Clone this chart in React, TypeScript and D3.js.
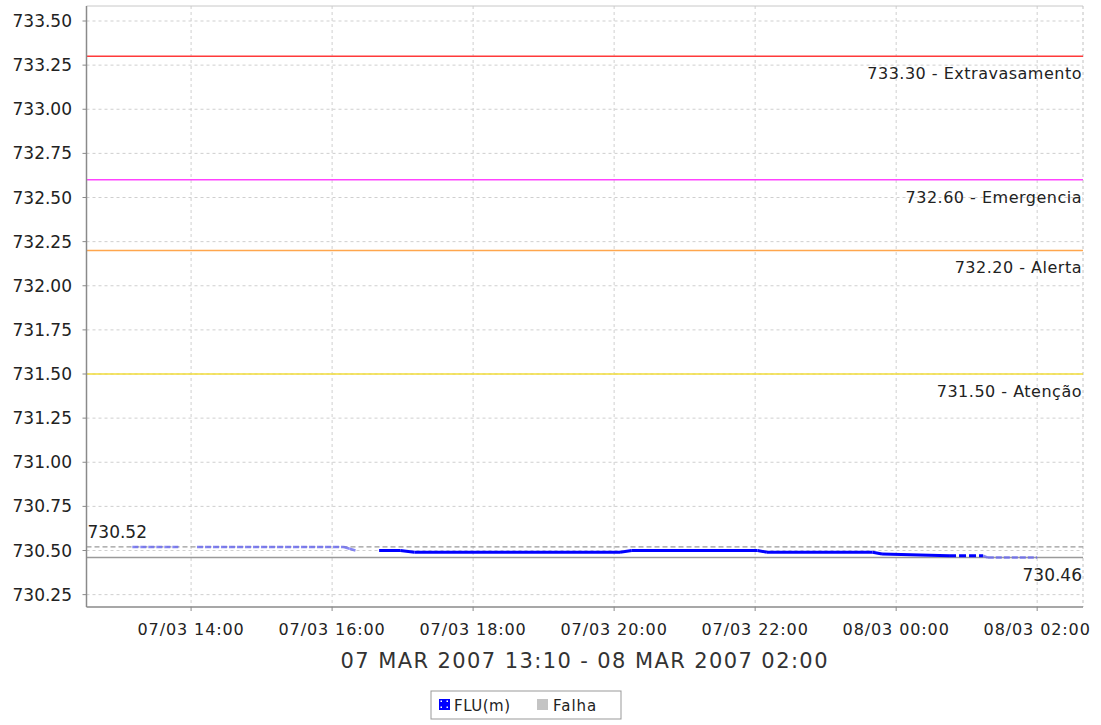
import React from "react";
import * as d3 from "d3";

// level readings (m) of the FLU station
const flowTimes = [
  "07/03/2007 13:10", "07/03/2007 13:50", "07/03/2007 14:05", "07/03/2007 16:10",
  "07/03/2007 16:15", "07/03/2007 16:20", "07/03/2007 16:40", "07/03/2007 16:58",
  "07/03/2007 17:10", "07/03/2007 20:05", "07/03/2007 20:15", "07/03/2007 22:02",
  "07/03/2007 22:10", "07/03/2007 23:40", "07/03/2007 23:48", "08/03/2007 00:45",
  "08/03/2007 01:14", "08/03/2007 01:18", "08/03/2007 02:00",
];
const flowValues: (number | null)[] = [
  730.52, 730.52, 730.52, 730.52,
  730.51, 730.5, 730.5, 730.5,
  730.49, 730.49, 730.5, 730.5,
  730.49, 730.49, 730.48, 730.47,
  730.47, 730.46, 730.46,
];
// gaps in the record (Falha): the line is broken after these times
const gapStarts = ["07/03/2007 13:50", "07/03/2007 16:20"];
// periods drawn with estimated (faded) readings
const fadedRanges = [
  ["07/03/2007 13:10", "07/03/2007 16:20"],
  ["08/03/2007 01:14", "08/03/2007 02:00"],
];
const dashedRanges = [["08/03/2007 00:45", "08/03/2007 01:14"]];

const levelValues = [733.3, 732.6, 732.2, 731.5];
const levelNames = ["Extravasamento", "Emergencia", "Alerta", "Atenção"];
const levelColors = ["#ff3a3a", "#ff44ff", "#ffa64d", "#f2dc3a"];

const maxValue = 730.52;
const minValue = 730.46;

const yTicks = d3.range(13, -1, -1).map((i) => 730.25 + i * 0.25);
const xTickTimes = [
  "07/03/2007 14:00", "07/03/2007 16:00", "07/03/2007 18:00", "07/03/2007 20:00",
  "07/03/2007 22:00", "08/03/2007 00:00", "08/03/2007 02:00",
];
const xTitle = "07 MAR 2007 13:10 - 08 MAR 2007 02:00";
const legendNames = ["FLU(m)", "Falha"];

const parse = d3.timeParse("%d/%m/%Y %H:%M");
const fmtTick = d3.timeFormat("%d/%m %H:%M");
const font = "'DejaVu Sans', sans-serif";

const W = 1101;
const H = 725;
const plot = { left: 86.5, right: 1083, top: 6, bottom: 607 };

export default function App() {
  const x = d3
    .scaleTime()
    .domain([parse("07/03/2007 12:31")!, parse("08/03/2007 02:39")!])
    .range([plot.left, plot.right]);
  const y = d3
    .scaleLinear()
    .domain([730.5, 733.5])
    .range([550.5, 21]);
  y.domain([y.invert(plot.bottom), y.invert(plot.top)]).range([plot.bottom, plot.top]);

  const pts = flowTimes.map((t, i) => ({ t: parse(t)!, v: flowValues[i] }));
  const gaps = gapStarts.map((t) => +parse(t)!);
  const inRange = (ranges: string[][], a: Date, b: Date) =>
    ranges.some((r) => +a >= +parse(r[0])! && +b <= +parse(r[1])!);

  const segs = [];
  for (let i = 0; i < pts.length - 1; i++) {
    const a = pts[i];
    const b = pts[i + 1];
    if (a.v == null || b.v == null || gaps.includes(+a.t)) continue;
    const faded = inRange(fadedRanges, a.t, b.t);
    const dashed = inRange(dashedRanges, a.t, b.t);
    segs.push(
      <line
        key={i}
        x1={x(a.t)}
        y1={y(a.v)}
        x2={x(b.t)}
        y2={y(b.v)}
        stroke={faded ? "#6a6af2" : "#0000ff"}
        strokeWidth={faded ? 2.5 : 3}
        strokeDasharray={faded ? "6 2" : dashed ? "7 3" : undefined}
        opacity={faded ? 0.8 : 1}
      />
    );
  }

  const grid = "#cfcfcf";
  const textColor = "#222";

  return (
    <div style={{ position: "absolute", left: 0, top: 0, background: "#fff" }}>
      <svg width={W} height={H} style={{ display: "block", fontFamily: font }}>
        <rect x={0} y={0} width={W} height={H} fill="#fff" />
        {/* grid */}
        {yTicks.map((t) => (
          <line key={"gy" + t} x1={plot.left} x2={plot.right} y1={y(t)} y2={y(t)}
            stroke={grid} strokeDasharray="3 3" />
        ))}
        {xTickTimes.map((t) => (
          <line key={"gx" + t} x1={x(parse(t)!)} x2={x(parse(t)!)} y1={plot.top} y2={plot.bottom}
            stroke={grid} strokeDasharray="3 3" />
        ))}
        <line x1={plot.left} x2={plot.right} y1={plot.top} y2={plot.top} stroke="#c8c8c8" />
        <line x1={plot.right} x2={plot.right} y1={plot.top} y2={plot.bottom}
          stroke="#c0c0c0" strokeDasharray="3 3" />

        {/* alert levels */}
        {levelValues.map((v, i) => (
          <g key={"lv" + i}>
            <line x1={plot.left} x2={plot.right} y1={y(v)} y2={y(v)}
              stroke={levelColors[i]} strokeWidth={1.5} />
            <text x={plot.right - 1} y={y(v) + 23} textAnchor="end" fontSize={16}
              letterSpacing={0.5} fill={textColor}>
              {`${d3.format(".2f")(v)} - ${levelNames[i]}`}
            </text>
          </g>
        ))}

        {/* max / min markers */}
        <line x1={plot.left} x2={plot.right} y1={y(maxValue)} y2={y(maxValue)}
          stroke="#9a9a9a" strokeWidth={1.2} strokeDasharray="5 3" />
        <text x={plot.left + 1} y={y(maxValue) - 9} fontSize={17} fill={textColor}>
          {d3.format(".2f")(maxValue)}
        </text>
        <line x1={plot.left} x2={plot.right} y1={y(minValue)} y2={y(minValue)}
          stroke="#9a9a9a" strokeWidth={1.5} />
        <text x={plot.right - 1} y={y(minValue) + 23} textAnchor="end" fontSize={17}
          fill={textColor}>
          {d3.format(".2f")(minValue)}
        </text>

        {/* series */}
        <g strokeLinecap="butt">{segs}</g>

        {/* y axis */}
        <line x1={plot.left} x2={plot.left} y1={plot.top} y2={plot.bottom} stroke="#8a8a8a" strokeWidth={1.5} />
        {yTicks.map((t) => (
          <g key={"yt" + t}>
            <line x1={plot.left - 4} x2={plot.left} y1={y(t)} y2={y(t)} stroke="#8a8a8a" />
            <text x={72} y={y(t) + 6} textAnchor="end" fontSize={17} fill={textColor}>
              {d3.format(".2f")(t)}
            </text>
          </g>
        ))}

        {/* x axis */}
        <line x1={plot.left} x2={plot.right} y1={plot.bottom} y2={plot.bottom} stroke="#8a8a8a" strokeWidth={1.5} />
        {xTickTimes.map((t) => (
          <g key={"xt" + t}>
            <line x1={x(parse(t)!)} x2={x(parse(t)!)} y1={plot.bottom} y2={plot.bottom + 4} stroke="#8a8a8a" />
            <text x={x(parse(t)!)} y={635} textAnchor="middle" fontSize={16} letterSpacing={0.9}
              fill={textColor}>
              {fmtTick(parse(t)!)}
            </text>
          </g>
        ))}
        <text x={(plot.left + plot.right) / 2} y={668} textAnchor="middle" fontSize={21}
          letterSpacing={1.4} fill="#333">
          {xTitle}
        </text>

        {/* legend */}
        <g transform="translate(431,691)">
          <rect x={0} y={0} width={190} height={28} fill="#fff" stroke="#999" />
          <rect x={8} y={8} width={11} height={11} fill="#0000ff" />
          {[[10.5, 10.5], [16.5, 10.5], [10.5, 16.5], [16.5, 16.5]].map((p, i) => (
            <rect key={"d" + i} x={p[0] - 1} y={p[1] - 1} width={1.5} height={1.5} fill="#fff" />
          ))}
          <text x={23} y={19.5} fontSize={15} letterSpacing={0.5} fill={textColor}>{legendNames[0]}</text>
          <rect x={106} y={8} width={11} height={11} fill="#c4c4c4" />
          <text x={122} y={19.5} fontSize={15} letterSpacing={1} fill={textColor}>{legendNames[1]}</text>
        </g>
      </svg>
    </div>
  );
}
